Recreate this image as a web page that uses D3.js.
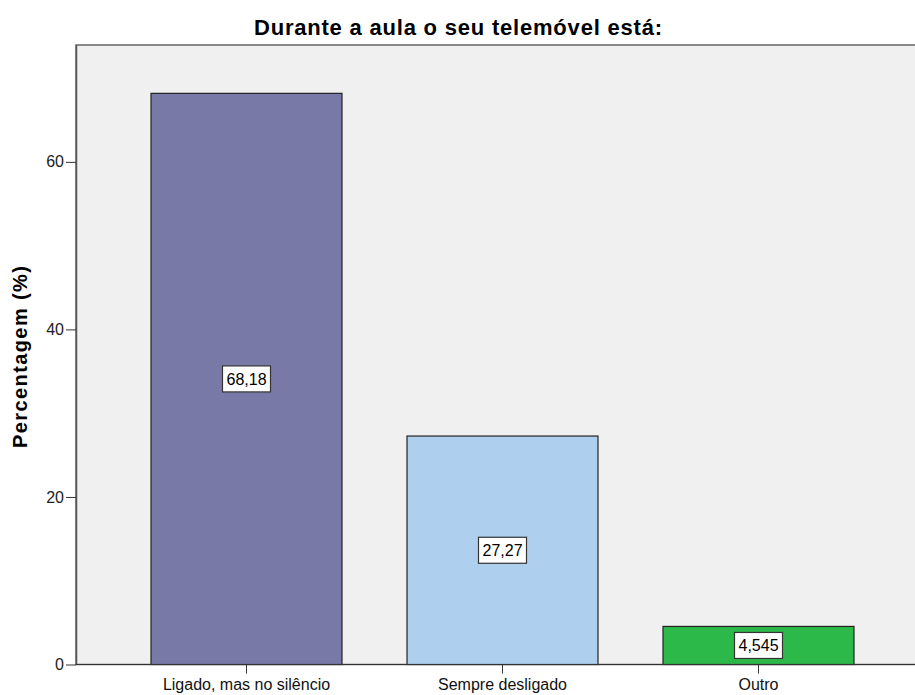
<!DOCTYPE html>
<html>
<head>
<meta charset="utf-8">
<script src="https://cdn.jsdelivr.net/npm/d3@7"></script>
<style>
body { margin: 0; background: #fff; }
text { font-family: "Liberation Sans", Arial, sans-serif; }
</style>
</head>
<body>
<script>
var categories = ["Ligado, mas no silêncio", "Sempre desligado", "Outro"];
var values = [68.18, 27.27, 4.545];
var valueLabels = ["68,18", "27,27", "4,545"];
var colors = ["#7979a8", "#aed0ee", "#2db84a"];
var yTicks = [0, 20, 40, 60];

var width = 915, height = 695;
var svg = d3.select("body").append("svg").attr("width", width).attr("height", height);

var plotLeft = 76, plotTop = 45, plotBottom = 664.5;
var y = d3.scaleLinear().domain([0, 73.95]).range([plotBottom, plotTop]);
var x = d3.scaleBand().domain(categories).range([118.5, 886.5]).paddingInner(0.254).paddingOuter(0.127);

// plot background
svg.append("rect").attr("x", plotLeft).attr("y", plotTop).attr("width", width - plotLeft + 5).attr("height", plotBottom - plotTop)
    .attr("fill", "#f0f0f0").attr("stroke", "#666").attr("stroke-width", 1.5);

// title
svg.append("text").attr("x", 458).attr("y", 35).attr("text-anchor", "middle")
    .style("font-size", "22px").style("font-weight", "bold").attr("textLength", 408)
    .text("Durante a aula o seu telemóvel está:");

// bars
svg.selectAll("rect.bar").data(values).enter().append("rect").attr("class", "bar")
    .attr("x", function(d, i) { return x(categories[i]); })
    .attr("y", function(d) { return y(d); })
    .attr("width", x.bandwidth())
    .attr("height", function(d) { return plotBottom - y(d); })
    .attr("fill", function(d, i) { return colors[i]; })
    .attr("stroke", "#222").attr("stroke-width", 1.2);

// value labels
var lab = svg.selectAll("g.lab").data(values).enter().append("g").attr("class", "lab")
    .attr("transform", function(d, i) {
        return "translate(" + (x(categories[i]) + x.bandwidth() / 2) + "," + ((y(d) + plotBottom) / 2) + ")";
    });
lab.append("rect").attr("x", -24).attr("y", -13).attr("width", 48).attr("height", 26)
    .attr("fill", "#fff").attr("stroke", "#333").attr("stroke-width", 1.2);
lab.append("text").attr("text-anchor", "middle").attr("dy", "0.36em").style("font-size", "16px")
    .text(function(d, i) { return valueLabels[i]; });

// y axis
var yAxis = svg.append("g").attr("transform", "translate(" + plotLeft + ",0)")
    .call(d3.axisLeft(y).tickValues(yTicks).tickSize(10).tickSizeOuter(0).tickPadding(2).tickFormat(d3.format("d")));
yAxis.select(".domain").attr("stroke", "#555").attr("stroke-width", 1.5);
yAxis.selectAll("line").attr("stroke", "#333");
yAxis.selectAll("text").style("font-size", "16px").attr("fill", "#222").style("font-family", "Liberation Sans, Arial, sans-serif");

// x axis
var xAxis = svg.append("g").attr("transform", "translate(0," + plotBottom + ")")
    .call(d3.axisBottom(x).tickSize(9).tickPadding(5).tickSizeOuter(0));
xAxis.select(".domain").attr("stroke", "#333").attr("stroke-width", 1.2).attr("d", "M" + plotLeft + ",0H" + width);
xAxis.selectAll("line").attr("stroke", "#333");
xAxis.selectAll("text").style("font-size", "16px").attr("fill", "#111").style("font-family", "Liberation Sans, Arial, sans-serif");

// y label
svg.append("text").attr("transform", "translate(27," + 357 + ") rotate(-90)")
    .attr("text-anchor", "middle").style("font-size", "20px").style("font-weight", "bold")
    .attr("textLength", 182).text("Percentagem (%)");
</script>
</body>
</html>
